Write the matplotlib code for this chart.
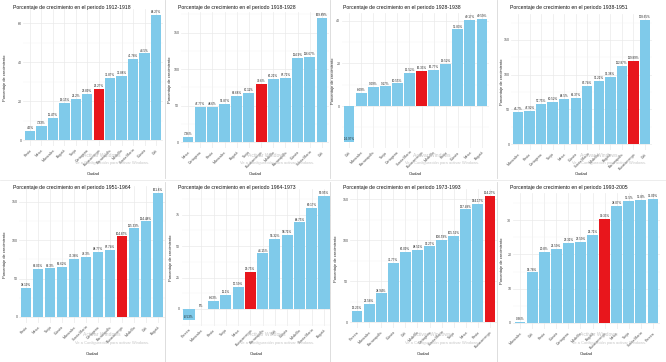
import matplotlib
matplotlib.use("Agg")
import matplotlib.pyplot as plt
import numpy as np

plt.rcParams['font.family'] = ['Liberation Sans', 'DejaVu Sans']

W, H = 666, 362

periods = ["1912-1918", "1918-1928", "1928-1938", "1938-1951",
           "1951-1964", "1964-1973", "1973-1993", "1993-2005"]

cities_1 = ["Pasto", "Neiva", "Manizales", "Bogotá", "Tunja", "Cartagena", "Bucaramanga",
            "Barranquilla", "Medellín", "Santa Marta", "Cúcuta", "Cali"]
vals_1 = [4.50, 7.33, 11.47, 19.15, 21.2, 23.89, 26.27, 31.87, 32.88, 41.78, 44.5, 64.27]

cities_2 = ["Neiva", "Cartagena", "Pasto", "Manizales", "Bogotá", "Tunja", "Bucaramanga",
            "Medellín", "Barranquilla", "Cúcuta", "Santa Marta", "Cali"]
vals_2 = [7.36, 47.77, 48.60, 51.87, 63.68, 67.11, 79.60, 86.21, 87.71, 114.9, 116.67, 169.89]

cities_3 = ["Cali", "Manizales", "Barranquilla", "Tunja", "Cartagena", "Santa Marta", "Bucaramanga",
            "Medellín", "Pasto", "Cúcuta", "Neiva", "Bogotá"]
vals_3 = [-16.97, 6.09, 9.09, 9.17, 10.55, 15.52, 16.33, 16.77, 19.52, 35.83, 40.17, 40.59]

cities_4 = ["Manizales", "Pasto", "Cartagena", "Tunja", "Neiva", "Cúcuta", "Santa Marta",
            "Medellín", "Bogotá", "Barranquilla", "Bucaramanga", "Cali"]
vals_4 = [46.7, 47.92, 57.75, 60.52, 64.5, 66.37, 83.74, 91.21, 96.38, 112.87, 119.89, 178.65]

cities_5 = ["Pasto", "Neiva", "Tunja", "Cúcuta", "Manizales", "Santa Marta", "Cartagena",
            "Barranquilla", "Bucaramanga", "Medellín", "Cali", "Bogotá"]
vals_5 = [38.19, 63.03, 63.3, 65.62, 75.38, 78.3, 84.77, 87.74, 104.87, 115.33, 124.48, 161.8]

cities_6 = ["Pereira", "Manizales", "Pasto", "Tunja", "Neiva", "Bucaramanga", "Barranquilla",
            "Cali", "Cúcuta", "Medellín", "Santa Marta", "Bogotá"]
vals_6 = [-8.53, 0.0, 6.63, 11.1, 17.59, 29.75, 44.15, 55.32, 58.71, 68.75, 80.17, 89.95]

cities_7 = ["Pereira", "Manizales", "Barranquilla", "Cúcuta", "Cali", "Medellín", "Cartagena",
            "Santa Marta", "Tunja", "Neiva", "Pasto", "Bucaramanga"]
vals_7 = [13.23, 22.58, 34.94, 71.77, 86.09, 88.51, 92.27, 100.59, 105.52, 137.49, 144.17, 154.27]

cities_8 = ["Manizales", "Cali", "Pasto", "Cúcuta", "Cartagena", "Medellín", "Bogotá",
            "Bucaramanga", "Neiva", "Tunja", "Santa Marta", "Pereira"]
vals_8 = [0.36, 14.78, 20.8, 21.59, 23.31, 23.59, 25.71, 30.33, 34.07, 35.50, 35.8, 36.09]

highlight = "Bucaramanga"

all_cities = [cities_1, cities_2, cities_3, cities_4, cities_5, cities_6, cities_7, cities_8]
all_vals = [vals_1, vals_2, vals_3, vals_4, vals_5, vals_6, vals_7, vals_8]
yticks = [[0, 20, 40, 60], [0, 50, 100, 150], [0, 20, 40], [0, 50, 100, 150],
          [0, 50, 100, 150], [0, 25, 50, 75], [0, 50, 100, 150], [0, 10, 20, 30]]

# layout: (panel x0, panel y0, first bar center px, last bar center px, zero px, top-of-max px, ylabel x px)
layout = [
    (0, 0, 30, 156, 140, 15, 5),
    (165, 0, 188, 322, 142, 18, 170),
    (330, 0, 349, 482, 106, 19.3, 333),
    (497, 0, 518, 645, 144, 20, 502),
    (0, 180, 26, 158, 317, 192.7, 5),
    (165, 180, 189, 324, 309, 195.7, 171),
    (330, 180, 357, 490, 322, 195.7, 336),
    (497, 180, 520, 653, 323, 199.3, 502),
]

fig = plt.figure(figsize=(W / 100, H / 100), dpi=100)
fig.patch.set_facecolor("white")

BLUE = "#7FCAEA"
RED = "#E8161C"
GRID = "#EAEAEA"

for k in range(8):
    cities = all_cities[k]
    vals = np.array(all_vals[k])
    px0, py0, xf, xl, yz, ytop, ylx = layout[k]
    w = (xl - xf) / 11.0
    left_px = xf - 0.6 * w
    right_px = xl + 0.6 * w
    vmax = vals.max()
    vmin = min(0, vals.min())
    rng = vmax - vmin
    s = (yz - ytop) / vmax
    lo = vmin - 0.05 * rng
    hi = vmax + 0.05 * rng
    top_px = yz - s * hi
    bot_px = yz - s * lo
    ax = fig.add_axes([left_px / W, 1 - bot_px / H, (right_px - left_px) / W, (bot_px - top_px) / H])
    x = np.arange(1, 13)
    colors = [RED if c == highlight else BLUE for c in cities]
    ax.bar(x, vals, width=0.9, color=colors, zorder=3)
    for xi, v in zip(x, vals):
        lab = ("%.2f" % v).rstrip("0").rstrip(".") + "%"
        ax.annotate(lab, (xi, v), xytext=(0, 0.6), textcoords="offset points",
                    ha="center", va="bottom", fontsize=2.2, color="#222222", zorder=4)
    ax.set_xlim(0.4, 12.6)
    ax.set_ylim(lo, hi)
    ax.set_xticks(x)
    ax.set_xticklabels(cities, rotation=45, ha="right", rotation_mode="anchor",
                       fontsize=2.6, color="#4D4D4D")
    ax.set_yticks(yticks[k])
    ax.set_yticklabels([str(t) for t in yticks[k]], fontsize=2.6, color="#4D4D4D")
    yt = yticks[k]
    step = yt[1] - yt[0]
    minors = [t + step / 2 for t in yt + [yt[0] - step] if lo < t + step / 2 < hi]
    ax.set_yticks(minors, minor=True)
    ax.tick_params(axis="x", length=0, pad=1.5)
    ax.tick_params(axis="y", length=0, pad=1.0)
    ax.tick_params(which="minor", length=0)
    ax.grid(True, which="major", color=GRID, linewidth=0.5, zorder=0)
    ax.grid(True, which="minor", axis="y", color="#F3F3F3", linewidth=0.3, zorder=0)
    for sp in ax.spines.values():
        sp.set_visible(False)
    ax.set_facecolor("white")

    # title, axis labels
    fig.text((px0 + 13) / W, 1 - (py0 + 8) / H,
             "Porcentaje de crecimiento en el periodo " + periods[k],
             fontsize=3.7, ha="left", va="center", color="#111111")
    fig.text(ylx / W, 1 - ((top_px + bot_px) / 2) / H, "Porcentaje de crecimiento",
             rotation=90, fontsize=2.9, ha="center", va="center", color="#222222")
    fig.text(((left_px + right_px) / 2) / W, 1 - (py0 + 174) / H, "Ciudad",
             fontsize=3.0, ha="center", va="center", color="#222222")
    # watermark
    fig.text((px0 + 83) / W, 1 - (py0 + 155) / H, "Activar Windows",
             fontsize=3.6, ha="left", va="center", color="#BDBDBD", alpha=0.85)
    fig.text((px0 + 75) / W, 1 - (py0 + 163) / H, "Ve a Configuración para activar Windows.",
             fontsize=2.9, ha="left", va="center", color="#BDBDBD", alpha=0.85)

# separator lines between screenshots
for xs in [165, 330, 497]:
    fig.add_artist(plt.Line2D([xs / W, xs / W], [1 - 178 / H, 1.0], color="#D8D8D8", lw=0.6))
for xs in [165, 330, 497]:
    fig.add_artist(plt.Line2D([xs / W, xs / W], [0.0, 1 - 182 / H], color="#D8D8D8", lw=0.6))
fig.add_artist(plt.Line2D([0, 1], [1 - 180 / H, 1 - 180 / H], color="#E6E6E6", lw=0.5))

fig.savefig("out.png", dpi=100, facecolor="white")
